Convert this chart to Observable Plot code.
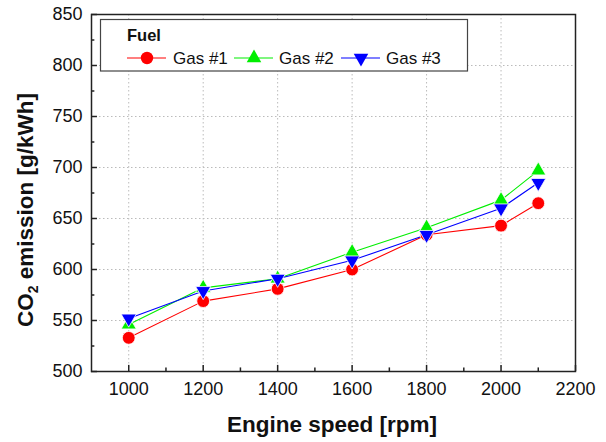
<!DOCTYPE html>
<html>
<head>
<meta charset="utf-8">
<script src="https://cdn.jsdelivr.net/npm/d3@7"></script>
<script src="https://cdn.jsdelivr.net/npm/@observablehq/plot@0.6"></script>
<style>
body{margin:0;background:#fff;}
#chart{position:relative;width:606px;height:442px;}
svg{font-family:Arial,"Liberation Sans",sans-serif;}
</style>
</head>
<body>
<div id="chart"></div>
<script>
const speeds = [1000, 1200, 1400, 1600, 1800, 2000, 2100];
const gas1 = [533, 569, 581, 600, 634, 643, 665];
const gas2 = [546, 582, 591, 617, 641, 668, 697];
const gas3 = [552, 579, 591, 609, 634, 660, 685];
const seriesNames = ["Gas #1", "Gas #2", "Gas #3"];
const colors = ["#ff0000", "#00ee00", "#0000ff"];
const xTicks = [1000, 1200, 1400, 1600, 1800, 2000, 2200];
const yTicks = [500, 550, 600, 650, 700, 750, 800, 850];
const xMinor = [1100, 1300, 1500, 1700, 1900, 2100];
const yMinor = [525, 575, 625, 675, 725, 775, 825];

const rows = [];
[gas1, gas2, gas3].forEach((arr, i) => arr.forEach((v, j) => rows.push({x: speeds[j], y: v, s: seriesNames[i]})));
const byS = s => rows.filter(r => r.s === s);

const plot = Plot.plot({
  width: 606, height: 442,
  marginLeft: 91, marginRight: 31, marginTop: 14, marginBottom: 71,
  style: {fontFamily: "Arial, 'Liberation Sans', sans-serif", background: "#fff"},
  x: {domain: [900, 2200]},
  y: {domain: [500, 850]},
  marks: [
    Plot.gridX(xTicks.slice(0, -1), {stroke: "#bbb", strokeOpacity: 1, strokeDasharray: "1.5,2.5"}),
    Plot.gridY(yTicks.slice(1, -1), {stroke: "#bbb", strokeOpacity: 1, strokeDasharray: "1.5,2.5"}),
    Plot.ruleX(xTicks, {y1: 500, y2: 506, stroke: "#222", strokeWidth: 1.5}),
    Plot.ruleX(xMinor, {y1: 500, y2: 503.5, stroke: "#222", strokeWidth: 1.5}),
    Plot.ruleY(yTicks, {x1: 900, x2: 916, stroke: "#222", strokeWidth: 1.5}),
    Plot.ruleY(yMinor, {x1: 900, x2: 909, stroke: "#222", strokeWidth: 1.5}),
    Plot.axisX(xTicks, {tickSize: 0, tickPadding: 11, fontSize: 18, fill: "#111", label: null, tickFormat: d => String(d)}),
    Plot.axisY(yTicks, {tickSize: 0, tickPadding: 9, fontSize: 18, fill: "#111", label: null, tickFormat: d => String(d)}),
    Plot.frame({stroke: "#222", strokeWidth: 1.5}),
    Plot.line(byS("Gas #1"), {x: "x", y: "y", stroke: colors[0], strokeWidth: 1.1}),
    Plot.line(byS("Gas #2"), {x: "x", y: "y", stroke: colors[1], strokeWidth: 1.1}),
    Plot.line(byS("Gas #3"), {x: "x", y: "y", stroke: colors[2], strokeWidth: 1.1}),
    Plot.dot(byS("Gas #1"), {x: "x", y: "y", fill: colors[0], r: 6.4, symbol: "circle", stroke: "#fff", strokeWidth: 0.8}),
    Plot.dot(byS("Gas #2"), {x: "x", y: "y", fill: colors[1], r: 5.6, symbol: "triangle", stroke: "#fff", strokeWidth: 0.8}),
    Plot.dot(byS("Gas #3"), {x: "x", y: "y", fill: colors[2], r: 5.6, symbol: "triangle", rotate: 180, stroke: "#fff", strokeWidth: 0.8})
  ]
});
document.getElementById("chart").appendChild(plot);

const svg = d3.select(plot);
// Axis titles
const yl = svg.append("text")
  .attr("transform", "translate(33,210) rotate(-90)")
  .attr("text-anchor", "middle")
  .style("font-size", "22.5px").attr("font-weight", "bold").attr("fill", "#111");
yl.append("tspan").text("CO");
yl.append("tspan").style("font-size", "14px").attr("dy", 5).text("2");
yl.append("tspan").attr("dy", -5).text(" emission [g/kWh]");
svg.append("text")
  .attr("x", 332).attr("y", 432)
  .attr("text-anchor", "middle")
  .style("font-size", "22.5px").attr("font-weight", "bold").attr("fill", "#111")
  .text("Engine speed [rpm]");

// Legend
const lg = svg.append("g").attr("text-anchor", "start");
lg.append("rect").attr("x", 100.5).attr("y", 19.5).attr("width", 367).attr("height", 51.5)
  .attr("fill", "#fff").attr("stroke", "#444").attr("stroke-width", 1.2);
lg.append("text").attr("x", 127).attr("y", 41).style("font-size", "16.5px").attr("font-weight", "bold").attr("fill", "#111").text("Fuel");
const items = [
  {x0: 127, tx: 173, sym: "circle", rot: 0},
  {x0: 234, tx: 279, sym: "up", rot: 0},
  {x0: 341, tx: 386, sym: "down", rot: 180}
];
const sy = 58;
items.forEach((it, i) => {
  lg.append("line").attr("x1", it.x0).attr("x2", it.x0 + 39).attr("y1", sy).attr("y2", sy)
    .attr("stroke", colors[i]).attr("stroke-width", 1.1);
  const cx = it.x0 + 20;
  if (it.sym === "circle") {
    lg.append("circle").attr("cx", cx).attr("cy", sy).attr("r", 6.2).attr("fill", colors[i]);
  } else {
    lg.append("path").attr("d", d3.symbol(d3.symbolTriangle, Math.PI * 5.4 * 5.4)())
      .attr("transform", `translate(${cx},${sy}) rotate(${it.rot})`).attr("fill", colors[i]);
  }
  lg.append("text").attr("x", it.tx).attr("y", 64).attr("text-anchor", "start").style("font-size", "17px").attr("fill", "#111").text(seriesNames[i]);
});
</script>
</body>
</html>
